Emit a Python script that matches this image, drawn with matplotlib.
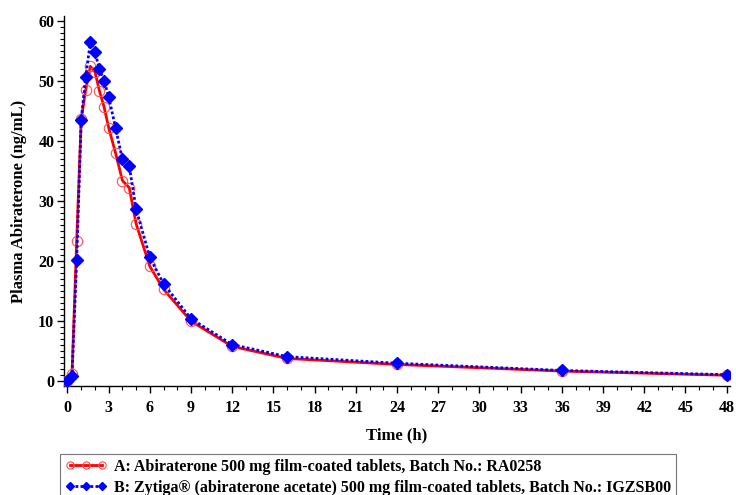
import matplotlib
matplotlib.use("Agg")
import matplotlib.pyplot as plt
from matplotlib.ticker import MultipleLocator

# sampling times (h)
time_h = [0, 0.33, 0.67, 1, 1.33, 1.67, 2, 2.33, 2.67, 3, 3.5, 4, 4.5, 5,
          6, 7, 9, 12, 16, 24, 36, 48]

# A: test product, mean plasma abiraterone (ng/mL)
conc_a = [0.0, 1.2, 23.3, 43.6, 48.5, 52.4, 51.5, 48.3, 45.6, 42.2, 38.0, 33.4,
          32.2, 26.2, 19.1, 15.3, 10.0, 5.8, 3.8, 2.8, 1.7, 1.0]

# B: reference product (Zytiga)
conc_b = [0.05, 0.9, 20.2, 43.5, 50.7, 56.5, 54.8, 51.9, 50.0, 47.3, 42.2, 36.9,
          35.8, 28.6, 20.6, 16.2, 10.4, 6.1, 4.1, 3.0, 1.8, 1.1]

label_a = "A: Abiraterone 500 mg film-coated tablets, Batch No.: RA0258"
label_b = "B: Zytiga\u00ae (abiraterone acetate) 500 mg film-coated tablets, Batch No.: IGZSB00"

plt.rcParams["font.family"] = ["Liberation Serif", "DejaVu Serif"]
plt.rcParams["font.weight"] = "bold"

fig = plt.figure(figsize=(7.36, 4.95), dpi=100)
ax = fig.add_axes([0.087, 0.220, 0.905, 0.748])

ax.plot(time_h, conc_a, color="red", linewidth=2, linestyle="-",
        marker="o", markersize=7.5, markerfacecolor="none",
        markeredgecolor="#ff5050", markeredgewidth=0.8, label=label_a, zorder=3)
ax.plot(time_h, conc_b, color="blue", linewidth=2, linestyle=(0, (1, 0.8)),
        marker="D", markersize=6.5, markerfacecolor="blue",
        markeredgecolor="blue", label=label_b, zorder=4)

ax.set_xlim(-0.25, 48.25)
ax.set_ylim(-0.8, 60.8)
ax.xaxis.set_major_locator(MultipleLocator(3))
ax.xaxis.set_minor_locator(MultipleLocator(1))
ax.yaxis.set_major_locator(MultipleLocator(10))
ax.yaxis.set_minor_locator(MultipleLocator(1))
ax.tick_params(which="major", length=5, width=1, labelsize=11.5)
ax.tick_params(axis="y", which="major", pad=2)
ax.tick_params(axis="x", which="major", pad=5)
ax.tick_params(which="minor", length=3, width=0.8)

for side in ("top", "right"):
    ax.spines[side].set_visible(False)
for side in ("left", "bottom"):
    ax.spines[side].set_linewidth(1)

ax.set_xlabel("Time (h)", fontsize=12, fontweight="bold", labelpad=8)
ax.set_ylabel("Plasma Abiraterone (ng/mL)", fontsize=12, fontweight="bold", labelpad=8)

leg = fig.legend(loc="upper left", bbox_to_anchor=(60 / 736, 1 - 454 / 495),
                 numpoints=3, handlelength=2.6, markerscale=0.7, fontsize=11.5,
                 frameon=True, fancybox=False, edgecolor="#555555", borderpad=0.3,
                 labelspacing=0.3, handletextpad=0.5, borderaxespad=0)
leg.get_frame().set_linewidth(0.8)

fig.savefig("out.png", dpi=100)
